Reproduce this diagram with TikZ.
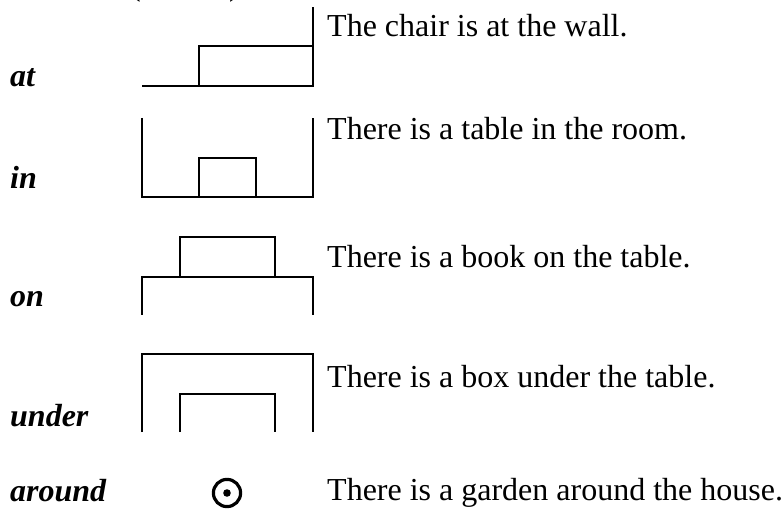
\documentclass[tikz,border=0pt]{standalone}
\usepackage{fontspec}
\setmainfont{Liberation Serif}
\begin{document}
\begin{tikzpicture}[x=1pt,y=-1pt,
  lbl/.style={anchor=base west,inner sep=0pt,font=\fontsize{32}{38}\selectfont\bfseries\itshape},
  sent/.style={anchor=base west,inner sep=0pt,font=\fontsize{32}{38}\selectfont},
  pict/.style={line width=2.2pt,line join=miter}]
\useasboundingbox (0,0) rectangle (784,510);
\clip (0,0) rectangle (784,510);
% cut-off heading fragments
\node[sent] (lp) at (130,-4) {(};
\node[sent] (rp) at (229,-4) {)};
% labels
\node[lbl] (at) at (10,87) {at};
\node[lbl] (in) at (10,189) {in};
\node[lbl] (on) at (10,307) {on};
\node[lbl] (under) at (10,426) {under};
\node[lbl] (around) at (10,501) {around};
% sentences
\node[sent] (s1) at (327,36.5) {The chair is at the wall.};
\node[sent] (s2) at (327,140) {There is a table in the room.};
\node[sent] (s3) at (327,268) {There is a book on the table.};
\node[sent] (s4) at (327,387) {There is a box under the table.};
\node[sent] (s5) at (327,500.5) {There is a garden around the house.};
% at
\draw[pict] (142,86) -- (313,86) -- (313,7);
\draw[pict] (199,86) -- (199,46) -- (313,46);
% in
\draw[pict] (142,118) -- (142,197) -- (313,197) -- (313,118);
\draw[pict] (199,197) -- (199,158) -- (256,158) -- (256,197);
% on
\draw[pict] (142,315) -- (142,277) -- (313,277) -- (313,315);
\draw[pict] (180,277) -- (180,237) -- (275,237) -- (275,277);
% under
\draw[pict] (142,432) -- (142,354) -- (313,354) -- (313,432);
\draw[pict] (180,432) -- (180,394) -- (275,394) -- (275,432);
% around
\draw[line width=3.2pt] (227,493) circle[radius=13.6];
\fill (227,493) circle[radius=3.8];
\end{tikzpicture}
\end{document}
